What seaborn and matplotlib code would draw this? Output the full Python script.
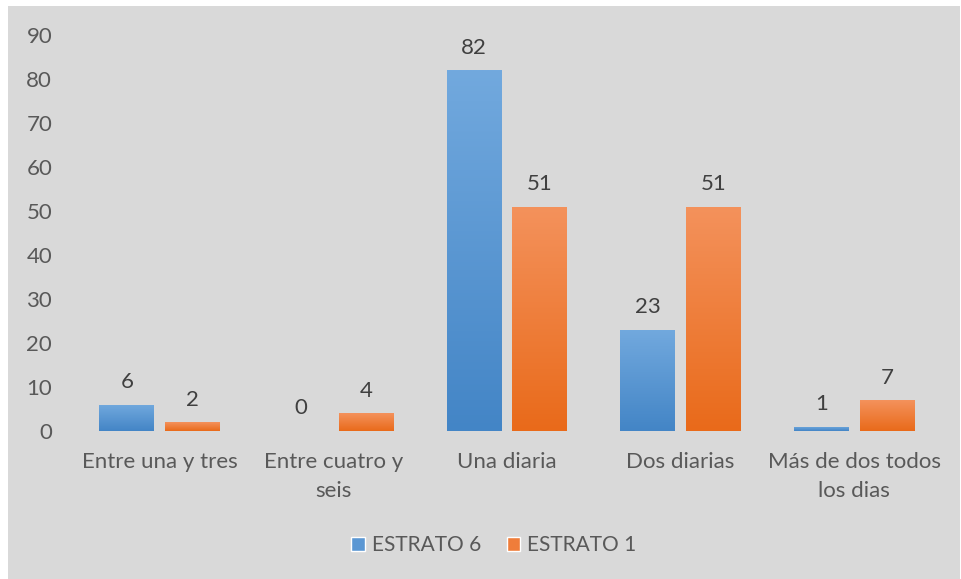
import numpy as np
import pandas as pd
import matplotlib
matplotlib.use("Agg")
import matplotlib.pyplot as plt
from matplotlib.patches import Rectangle
from matplotlib.colors import LinearSegmentedColormap
import seaborn as sns

categories = ["Entre una y tres", "Entre cuatro y\nseis", "Una diaria",
              "Dos diarias", "Más de dos todos\nlos dias"]
series_names = ["ESTRATO 6", "ESTRATO 1"]
estrato6 = [6, 0, 82, 23, 1]
estrato1 = [2, 4, 51, 51, 7]
y_ticks = [0, 10, 20, 30, 40, 50, 60, 70, 80, 90]

df = pd.DataFrame({
    "categoria": categories * 2,
    "serie": [series_names[0]] * len(categories) + [series_names[1]] * len(categories),
    "valor": estrato6 + estrato1,
})

# top / bottom colours of each series' vertical gradient
grad = {
    "ESTRATO 6": ("#72a9de", "#4385c6"),
    "ESTRATO 1": ("#f4925c", "#e96a1a"),
}
mid = {"ESTRATO 6": "#5b97d3", "ESTRATO 1": "#ef7d3a"}

sns.set_theme(style="white")
plt.rcParams["font.family"] = ["Lato", "DejaVu Sans"]
FS = 16

fig = plt.figure(figsize=(9.61, 5.79), dpi=100, facecolor="white")
bg_color = "#d9d9d9"
fig.patches.append(Rectangle((8 / 961, 0), 952 / 961, 1 - 6 / 579,
                             transform=fig.transFigure, facecolor=bg_color,
                             edgecolor="none", zorder=-10))

ax = fig.add_axes([73 / 961, 1 - 431 / 579, (941 - 73) / 961, (431 - 35) / 579])
ax.set_facecolor("none")

sns.barplot(data=df, x="categoria", y="valor", hue="serie", order=categories,
            hue_order=series_names, palette=mid, width=0.758, gap=0.166,
            legend=False, ax=ax)

ax.set_ylim(0, 90)
ax.set_yticks(y_ticks)
ax.set_xlim(-0.5, len(categories) - 0.5)
for s in ax.spines.values():
    s.set_visible(False)
ax.tick_params(axis="both", length=0, colors="#595959", labelsize=FS)
ax.tick_params(axis="x", pad=15)
ax.tick_params(axis="y", pad=15)
ax.set_xlabel("")
ax.set_ylabel("")
for lbl in ax.get_xticklabels():
    lbl.set_linespacing(1.6)

# vertical gradient fill clipped to each bar
for cont, name in zip(ax.containers, series_names):
    top, bot = grad[name]
    cmap = LinearSegmentedColormap.from_list(name, [bot, top])
    for bar in cont:
        h = bar.get_height()
        if h <= 0:
            bar.set_visible(False)
            continue
        x0, w = bar.get_x(), bar.get_width()
        img = ax.imshow(np.linspace(0, 1, 256).reshape(-1, 1), cmap=cmap,
                        origin="lower", aspect="auto",
                        extent=[x0, x0 + w, 0, h], zorder=bar.get_zorder() + 0.1)
        img.set_clip_path(bar)
        bar.set_facecolor("none")
        bar.set_edgecolor("none")
    ax.bar_label(cont, padding=9, color="#404040", fontsize=FS)

ax.set_xlim(-0.5, len(categories) - 0.5)
ax.set_ylim(0, 90)

handles = [Rectangle((0, 0), 1, 1, facecolor=mid[n]) for n in series_names]
fig.legend(handles, series_names, loc="center", bbox_to_anchor=(494 / 961, 1 - 545 / 579),
           ncol=2, frameon=False, fontsize=15, labelcolor="#595959",
           handlelength=0.65, handleheight=0.65, handletextpad=0.35, columnspacing=1.2)

fig.savefig("out.png", dpi=100, facecolor="white")
